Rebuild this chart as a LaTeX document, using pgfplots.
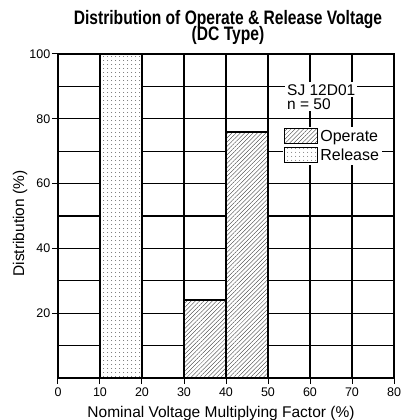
\documentclass[border=0pt]{standalone}
\usepackage{fontspec}
\setmainfont{Liberation Sans}
\newfontfamily\condfont[FakeStretch=0.8]{Liberation Sans}
\newcommand\titlefont{\condfont\bfseries\fontsize{19.5}{13}\selectfont\setlength{\lineskiplimit}{-30pt}\setlength{\lineskip}{0pt}}
\usepackage{pgfplots}
\pgfplotsset{compat=1.18}
\usetikzlibrary{patterns.meta}
\begin{document}
\begin{tikzpicture}
\begin{axis}[name=ax, scale only axis, width=336pt, height=324pt,
  xmin=0, xmax=80, ymin=0, ymax=100,
  xtick={0,10,...,80}, ytick={20,40,...,100},
  minor ytick={10,30,50,70,90},
  grid=both, major grid style={black, line width=1.1pt}, minor grid style={black, line width=1.1pt},
  minor tick length=0pt, major tick length=6pt, tick align=outside,
  tick style={black, line width=1pt},
  xtick pos=bottom, ytick pos=left,
  axis line style={line width=1.6pt},
  /pgf/number format/assume math mode=true,
  ticklabel style={font=\fontsize{12.5}{13}\selectfont},
  yticklabel style={inner sep=1.5pt},
  xlabel={Nominal Voltage Multiplying Factor (\%)},
  ylabel={Distribution (\%)},
  label style={font=\fontsize{15.5}{16}\selectfont},
  xlabel style={at={(axis description cs:0.5,0)}, anchor=base, yshift=-39pt, xshift=-5pt},
  ylabel style={at={(axis description cs:-0.113,0.477)}, anchor=center},
  title={Distribution of Operate \& Release Voltage\\[3pt](DC Type)},
  title style={at={(axis description cs:0.5,1)}, anchor=south, align=center,
    font=\titlefont, yshift=0pt, xshift=2pt},
  legend style={at={(0.67,0.775)}, anchor=north west, draw=none, fill=white,
    font=\fontsize{16}{16}\selectfont, row sep=2pt, inner sep=1pt,
    /tikz/every even column/.append style={column sep=0pt}},
  legend cell align=left,
  legend image code/.code={\draw[#1, line width=1pt] (0pt,-7.5pt) rectangle (33pt,7.5pt);},
]
\addplot[ybar interval, draw=black, line width=1.8pt, fill=white,
  postaction={pattern={Lines[angle=45,distance=3pt,line width=0.35pt]}, pattern color=black!80}]
  coordinates {(30,24) (40,76) (50,0)};
\addlegendentry{Operate}
\addplot[ybar interval, draw=black, line width=1.8pt, fill=white,
  postaction={pattern={Dots[distance=4pt,radius=0.45pt]}, pattern color=black}]
  coordinates {(10,100) (20,0)};
\addlegendentry{Release}
\node[fill=white, anchor=base west, inner sep=2pt,
  font=\fontsize{15.5}{14}\selectfont] at (axis cs:54.05,87.3) {SJ 12D01};
\node[fill=white, anchor=base west, inner sep=2pt,
  font=\fontsize{15.5}{14}\selectfont] at (axis cs:54.05,83.0) {n = 50};
\end{axis}
\pgfresetboundingbox
\path ([shift={(-58pt,-42pt)}]ax.south west) rectangle ([shift={(7pt,54pt)}]ax.north east);
\end{tikzpicture}
\end{document}
